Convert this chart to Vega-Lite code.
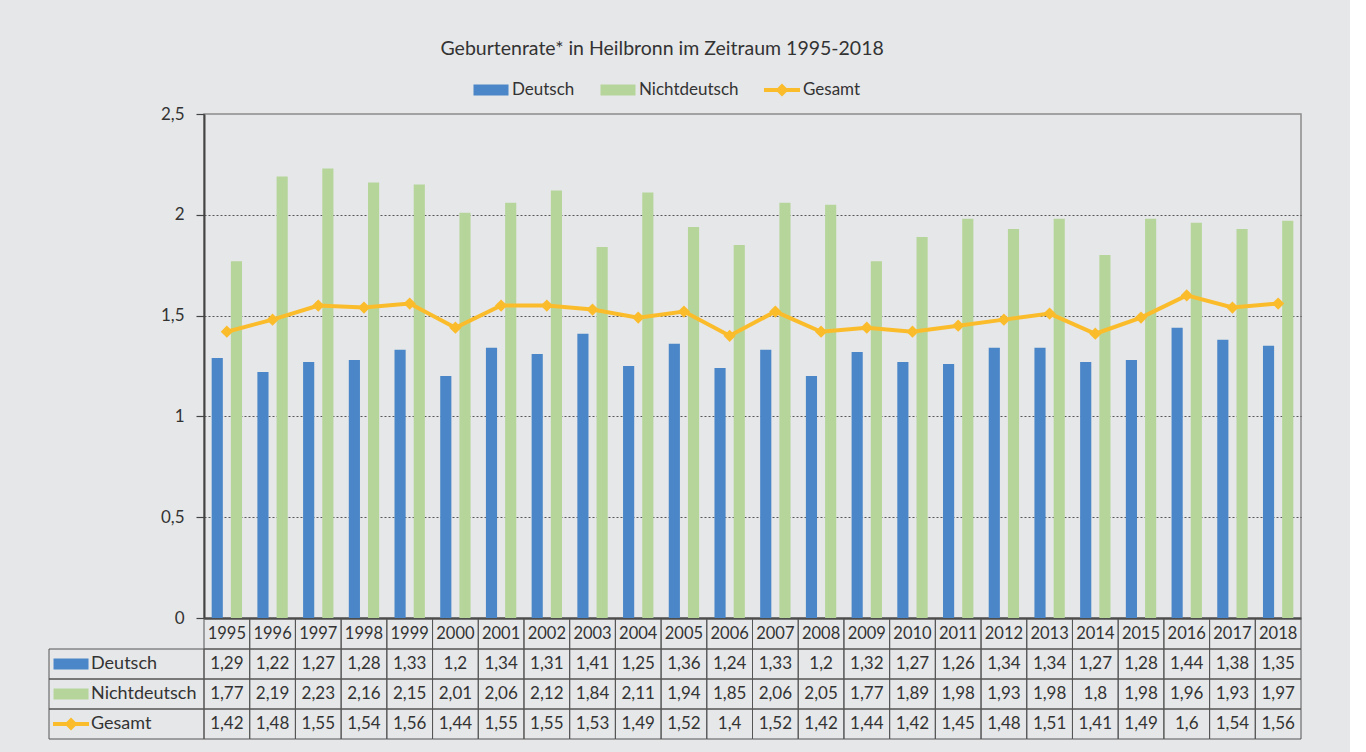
{
  "$schema": "https://vega.github.io/schema/vega-lite/v6.json",
  "background": "#e6e7e9",
  "padding": {"left": 48, "top": 38, "right": 48, "bottom": 14},
  "autosize": {"type": "pad"},
  "title": {"text": "Geburtenrate* in Heilbronn im Zeitraum 1995-2018", "fontSize": 19.5, "fontWeight": "normal", "font": "Lato", "color": "#333333", "anchor": "middle", "dx": -13, "offset": 21},
  "config": {
    "font": "Lato",
    "locale": {"number": {"decimal": ",", "thousands": ".", "grouping": [3], "currency": ["", " €"]}}
  },
  "datasets": {
    "geburten": [
      {"Jahr": "1995", "Deutsch": 1.29, "Nichtdeutsch": 1.77, "Gesamt": 1.42},
      {"Jahr": "1996", "Deutsch": 1.22, "Nichtdeutsch": 2.19, "Gesamt": 1.48},
      {"Jahr": "1997", "Deutsch": 1.27, "Nichtdeutsch": 2.23, "Gesamt": 1.55},
      {"Jahr": "1998", "Deutsch": 1.28, "Nichtdeutsch": 2.16, "Gesamt": 1.54},
      {"Jahr": "1999", "Deutsch": 1.33, "Nichtdeutsch": 2.15, "Gesamt": 1.56},
      {"Jahr": "2000", "Deutsch": 1.2, "Nichtdeutsch": 2.01, "Gesamt": 1.44},
      {"Jahr": "2001", "Deutsch": 1.34, "Nichtdeutsch": 2.06, "Gesamt": 1.55},
      {"Jahr": "2002", "Deutsch": 1.31, "Nichtdeutsch": 2.12, "Gesamt": 1.55},
      {"Jahr": "2003", "Deutsch": 1.41, "Nichtdeutsch": 1.84, "Gesamt": 1.53},
      {"Jahr": "2004", "Deutsch": 1.25, "Nichtdeutsch": 2.11, "Gesamt": 1.49},
      {"Jahr": "2005", "Deutsch": 1.36, "Nichtdeutsch": 1.94, "Gesamt": 1.52},
      {"Jahr": "2006", "Deutsch": 1.24, "Nichtdeutsch": 1.85, "Gesamt": 1.4},
      {"Jahr": "2007", "Deutsch": 1.33, "Nichtdeutsch": 2.06, "Gesamt": 1.52},
      {"Jahr": "2008", "Deutsch": 1.2, "Nichtdeutsch": 2.05, "Gesamt": 1.42},
      {"Jahr": "2009", "Deutsch": 1.32, "Nichtdeutsch": 1.77, "Gesamt": 1.44},
      {"Jahr": "2010", "Deutsch": 1.27, "Nichtdeutsch": 1.89, "Gesamt": 1.42},
      {"Jahr": "2011", "Deutsch": 1.26, "Nichtdeutsch": 1.98, "Gesamt": 1.45},
      {"Jahr": "2012", "Deutsch": 1.34, "Nichtdeutsch": 1.93, "Gesamt": 1.48},
      {"Jahr": "2013", "Deutsch": 1.34, "Nichtdeutsch": 1.98, "Gesamt": 1.51},
      {"Jahr": "2014", "Deutsch": 1.27, "Nichtdeutsch": 1.8, "Gesamt": 1.41},
      {"Jahr": "2015", "Deutsch": 1.28, "Nichtdeutsch": 1.98, "Gesamt": 1.49},
      {"Jahr": "2016", "Deutsch": 1.44, "Nichtdeutsch": 1.96, "Gesamt": 1.6},
      {"Jahr": "2017", "Deutsch": 1.38, "Nichtdeutsch": 1.93, "Gesamt": 1.54},
      {"Jahr": "2018", "Deutsch": 1.35, "Nichtdeutsch": 1.97, "Gesamt": 1.56}
    ]
  },
  "data": {"name": "geburten"},
  "transform": [{"fold": ["Deutsch", "Nichtdeutsch", "Gesamt"], "as": ["Serie", "Wert"]}],
  "columns": 2,
  "bounds": "flush",
  "spacing": {"row": 1, "column": 0},
  "resolve": {"scale": {"color": "shared"}},
  "concat": [
    {
      "width": 155,
      "height": 504,
      "view": {"stroke": null},
      "transform": [{"filter": "datum.Jahr === '1995' && datum.Serie === 'Deutsch'"}],
      "mark": {"type": "point", "opacity": 0},
      "encoding": {}
    },
    {
      "width": 1097,
      "height": 504,
      "view": {"stroke": "#8c8c8c", "strokeWidth": 1.5},
      "encoding": {
        "x": {"field": "Jahr", "type": "nominal", "scale": {"paddingInner": 0, "paddingOuter": 0}, "axis": {"labels": false, "ticks": false, "title": null, "domainColor": "#444444", "domainWidth": 2}}
      },
      "layer": [
        {
          "transform": [{"filter": "datum.Serie !== 'Gesamt'"}],
          "mark": {"type": "bar"},
          "encoding": {
            "xOffset": {"field": "Serie", "type": "nominal", "scale": {"domain": ["Deutsch", "Nichtdeutsch"], "paddingInner": 0.42, "paddingOuter": 0.4}},
            "y": {
              "field": "Wert", "type": "quantitative",
              "scale": {"domain": [0, 2.5], "nice": false},
              "axis": {
                "values": [0, 0.5, 1, 1.5, 2, 2.5],
                "title": null,
                "labelExpr": "replace(datum.value + '', '.', ',')",
                "labelFontSize": 17, "labelColor": "#333333", "labelPadding": 12,
                "tickSize": 8, "tickColor": "#444444", "tickWidth": 1.2,
                "domainColor": "#444444", "domainWidth": 2,
                "grid": true, "gridColor": "#333333", "gridDash": [2, 2], "gridWidth": 0.8,
                "gridOpacity": {"condition": {"test": "datum.value === 0 || datum.value === 2.5", "value": 0}, "value": 1}
              }
            },
            "color": {
              "field": "Serie", "type": "nominal",
              "scale": {"domain": ["Deutsch", "Nichtdeutsch", "Gesamt"], "range": ["#4a86c8", "#b6d59a", "#fbbc2c"]},
              "legend": {
                "orient": "none", "legendX": 432, "legendY": -34, "direction": "horizontal",
                "title": null, "labelFontSize": 17, "labelColor": "#333333",
                "symbolSize": 400, "labelOffset": 11, "columnPadding": 25, "padding": 0,
                "encode": {
                  "symbols": {
                    "update": {
                      "shape": {"signal": "datum.value === 'Gesamt' ? 'M-1.8,-0.2H1.8V0.2H-1.8Z M0,-0.6L0.6,0L0,0.6L-0.6,0Z' : 'M-1.7,-0.55H1.7V0.55H-1.7Z'"},
                      "fill": {"signal": "datum.value === 'Deutsch' ? '#4a86c8' : datum.value === 'Nichtdeutsch' ? '#b6d59a' : '#fbbc2c'"},
                      "strokeWidth": {"value": 0},
                      "opacity": {"value": 1}
                    }
                  }
                }
              }
            }
          }
        },
        {
          "transform": [{"filter": "datum.Serie === 'Gesamt'"}],
          "mark": {"type": "line", "strokeWidth": 4, "point": {"filled": true, "shape": "diamond", "size": 150, "opacity": 1}},
          "encoding": {
            "y": {"field": "Wert", "type": "quantitative"},
            "color": {"field": "Serie", "type": "nominal", "legend": null}
          }
        }
      ]
    },
    {
      "width": 155,
      "height": 120,
      "view": {"stroke": null},
      "transform": [{"filter": "datum.Jahr === '1995'"}],
      "encoding": {
        "y": {"field": "Serie", "type": "nominal", "scale": {"domain": ["Jahr", "Deutsch", "Nichtdeutsch", "Gesamt"], "paddingInner": 0, "paddingOuter": 0}, "axis": null}
      },
      "layer": [
        {
          "mark": {"type": "rect", "fill": "transparent", "stroke": "#555555", "strokeWidth": 1}
        },
        {
          "mark": {"type": "point", "filled": true, "size": 400, "opacity": 1},
          "encoding": {
            "x": {"datum": "Symbol", "type": "nominal", "bandPosition": 0.5, "scale": {"type": "band", "domain": ["Symbol", "Bezeichnung"], "paddingInner": 0, "paddingOuter": 0.76, "align": 0}, "axis": null},
            "shape": {"field": "Serie", "type": "nominal", "scale": {"domain": ["Deutsch", "Nichtdeutsch", "Gesamt"], "range": ["M-1.75,-0.55H1.75V0.55H-1.75Z", "M-1.75,-0.55H1.75V0.55H-1.75Z", "M-1.8,-0.2H1.8V0.2H-1.8Z M0,-0.65L0.65,0L0,0.65L-0.65,0Z"]}, "legend": null},
            "color": {"field": "Serie", "type": "nominal", "legend": null}
          }
        },
        {
          "mark": {"type": "text", "align": "left", "fontSize": 18, "color": "#333333", "dx": -2},
          "encoding": {
            "x": {"datum": "Bezeichnung", "type": "nominal", "bandPosition": 0},
            "text": {"field": "Serie", "type": "nominal"}
          }
        }
      ]
    },
    {
      "width": 1097,
      "height": 120,
      "view": {"stroke": null},
      "encoding": {
        "x": {"field": "Jahr", "type": "nominal", "scale": {"paddingInner": 0, "paddingOuter": 0}, "axis": null}
      },
      "layer": [
        {
          "mark": {"type": "rect", "fill": "transparent", "stroke": "#555555", "strokeWidth": 1},
          "encoding": {
            "y": {"field": "Serie", "type": "nominal", "scale": {"domain": ["Jahr", "Deutsch", "Nichtdeutsch", "Gesamt"], "paddingInner": 0, "paddingOuter": 0}, "axis": null}
          }
        },
        {
          "transform": [{"filter": "datum.Serie === 'Deutsch'"}],
          "mark": {"type": "rect", "fill": "transparent", "stroke": "#555555", "strokeWidth": 1},
          "encoding": {"y": {"datum": "Jahr", "type": "nominal"}}
        },
        {
          "mark": {"type": "text", "fontSize": 17, "color": "#333333"},
          "encoding": {
            "y": {"field": "Serie", "type": "nominal"},
            "text": {"field": "Wert", "type": "quantitative", "format": "~g"}
          }
        },
        {
          "transform": [{"filter": "datum.Serie === 'Deutsch'"}],
          "mark": {"type": "text", "fontSize": 16.5, "color": "#333333"},
          "encoding": {
            "y": {"datum": "Jahr", "type": "nominal"},
            "text": {"field": "Jahr", "type": "nominal"}
          }
        }
      ]
    }
  ]
}
